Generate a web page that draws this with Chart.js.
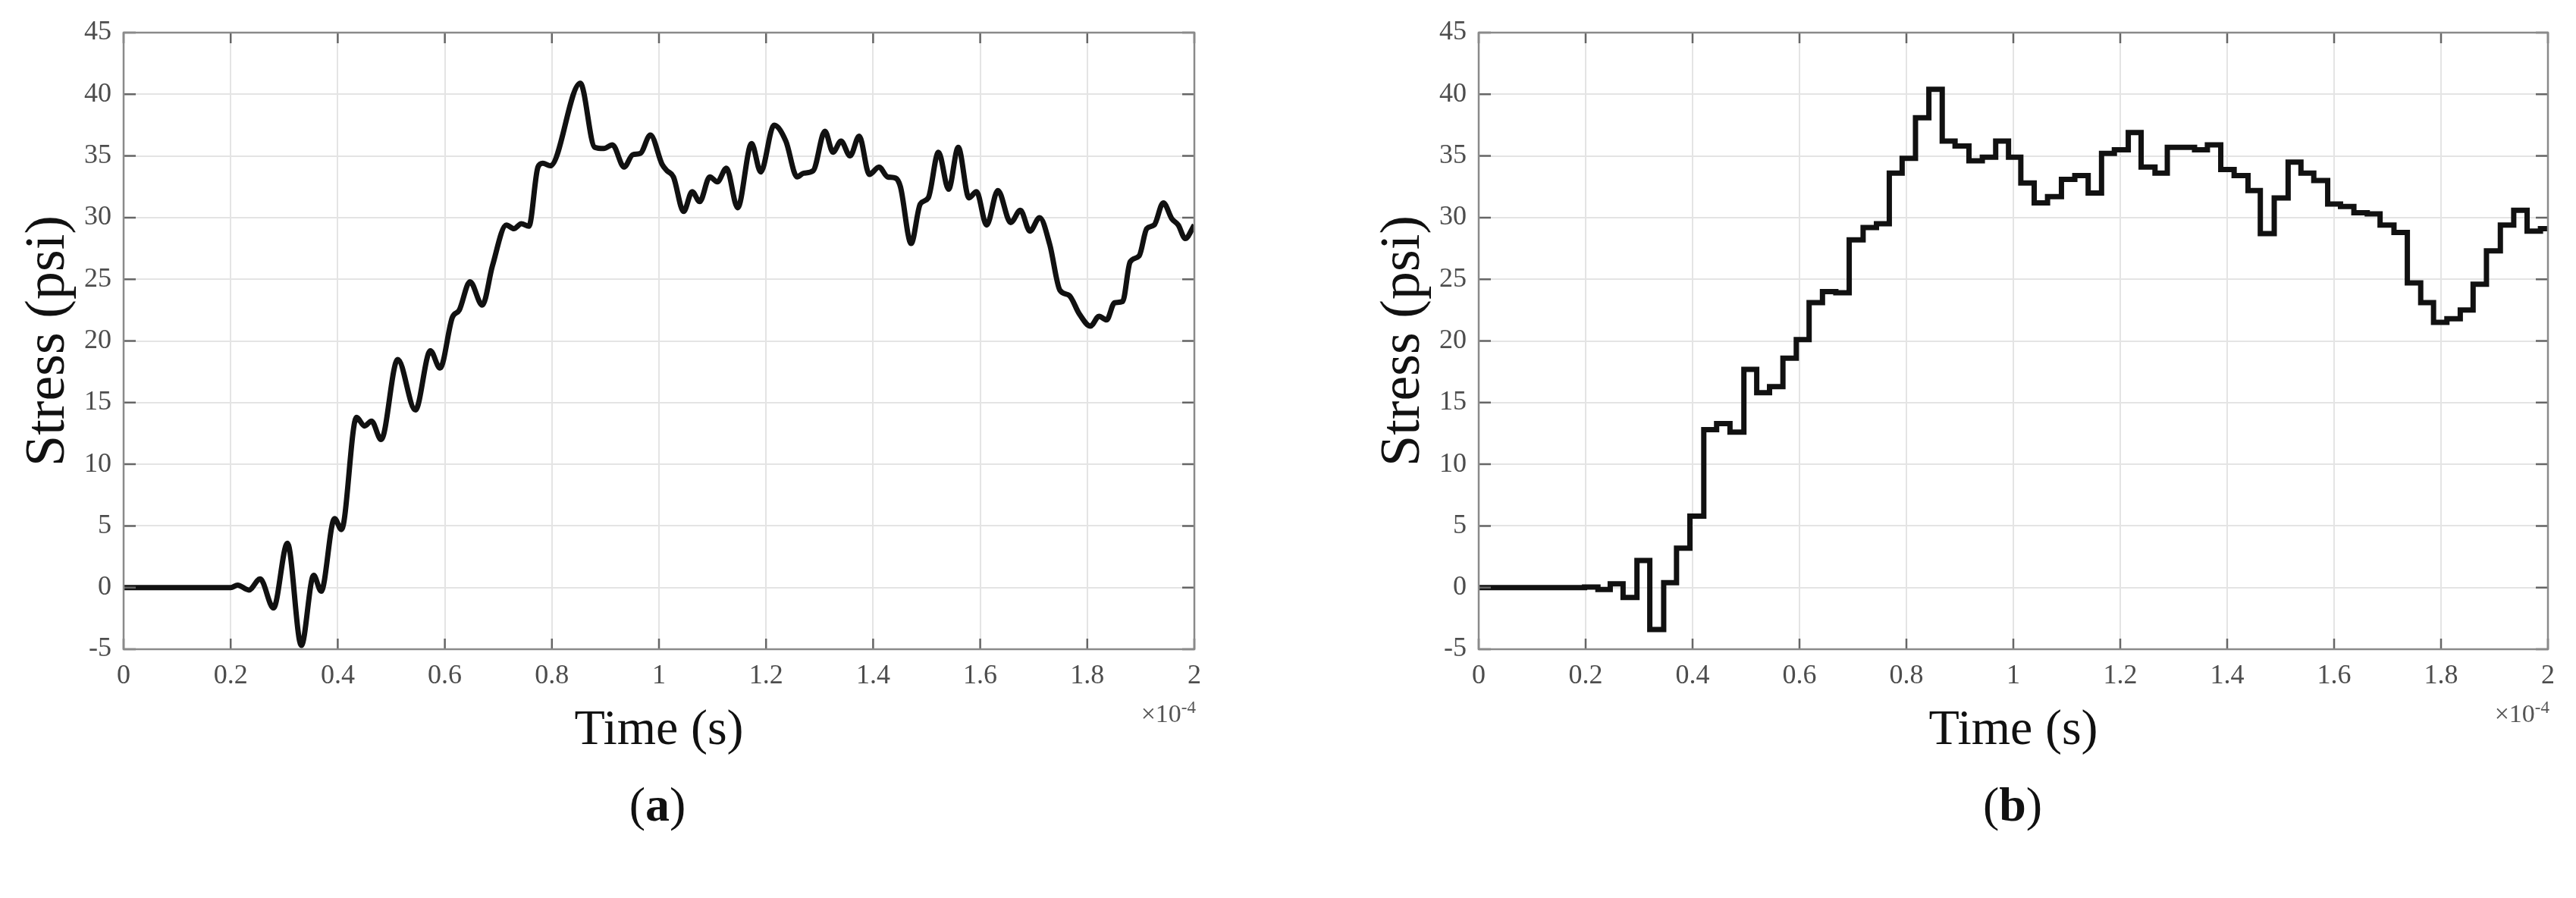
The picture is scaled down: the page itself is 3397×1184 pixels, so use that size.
<!DOCTYPE html>
<html lang="en">
  <head>
    <meta charset="UTF-8" />
    <title>Stress vs Time</title>
    <script src="https://cdn.jsdelivr.net/npm/chart.js"></script>
    <style>
      body {
        margin: 0;
        background: #fff;
        width: 3397px;
        height: 1184px;
        overflow: hidden;
        position: relative;
        font-family: "Liberation Serif", serif;
      }
      canvas {
        position: absolute;
        top: 0;
      }
      .cap {
        position: absolute;
        top: 1024px;
        width: 200px;
        text-align: center;
        font-size: 64px;
        font-weight: bold;
        color: #111;
      }
      .cap span {
        font-weight: normal;
      }
      .exp {
        position: absolute;
        top: 920px;
        font-size: 34px;
        color: #555;
        text-align: right;
        width: 120px;
      }
      .exp sup {
        font-size: 23px;
      }
    </style>
  </head>
  <body>
    <canvas id="chartA" width="1700" height="1184" style="left:0px"></canvas>
    <canvas id="chartB" width="1610" height="1184" style="left:1787px"></canvas>

    <div class="exp" style="left:1457px">&times;10<sup>-4</sup></div>
    <div class="exp" style="left:3242px">&times;10<sup>-4</sup></div>
    <div class="cap" style="left:767px"><span>(</span>a<span>)</span></div>
    <div class="cap" style="left:2554px"><span>(</span>b<span>)</span></div>

    <script>
      // tick values (time axis in units of 1e-4 s)
      const xTicks = [0, 0.2, 0.4, 0.6, 0.8, 1, 1.2, 1.4, 1.6, 1.8, 2];
      const yTicks = [-5, 0, 5, 10, 15, 20, 25, 30, 35, 40, 45];

      // (a) filtered signal at its turning points
      const timeA = [
        0, 0.1, 0.2, 0.213, 0.234, 0.255, 0.28, 0.306, 0.332, 0.355, 0.369,
        0.394, 0.407, 0.435, 0.45, 0.463, 0.481, 0.512, 0.545, 0.573, 0.591,
        0.614, 0.627, 0.647, 0.67, 0.689, 0.715, 0.729, 0.743, 0.757, 0.774,
        0.783, 0.797, 0.853, 0.88, 0.897, 0.913, 0.935, 0.951, 0.965, 0.984,
        1.006, 1.015, 1.027, 1.046, 1.062, 1.076, 1.095, 1.109, 1.126, 1.147,
        1.173, 1.19, 1.215, 1.237, 1.258, 1.27, 1.288, 1.31, 1.325, 1.34,
        1.357, 1.374, 1.393, 1.411, 1.427, 1.442, 1.451, 1.471, 1.488, 1.503,
        1.522, 1.541, 1.559, 1.579, 1.593, 1.612, 1.633, 1.657, 1.675, 1.693,
        1.711, 1.73, 1.749, 1.766, 1.785, 1.806, 1.822, 1.836, 1.851, 1.866,
        1.88, 1.897, 1.911, 1.925, 1.942, 1.958, 1.97, 1.983, 2.0,
      ];
      const stressA = [
        0, 0, 0, 0.2, -0.2, 0.7, -1.65, 3.6, -4.7, 1.0, -0.3,
        5.6, 4.7, 13.8, 13.1, 13.5, 12.0, 18.5, 14.4, 19.2, 17.8,
        21.9, 22.5, 24.8, 22.9, 26.1, 29.4, 29.1, 29.5, 29.3, 34.1,
        34.4, 34.2, 40.9, 35.7, 35.6, 35.9, 34.1, 35.1, 35.2, 36.7,
        34.3, 33.8, 33.3, 30.5, 32.1, 31.3, 33.3, 32.9, 34.0, 30.8,
        36.0, 33.7, 37.5, 36.2, 33.3, 33.6, 33.8, 37.0, 35.3, 36.2,
        35.0, 36.6, 33.5, 34.1, 33.3, 33.2, 32.5, 27.9, 31.1, 31.6,
        35.3, 32.3, 35.7, 31.6, 32.1, 29.4, 32.2, 29.6, 30.6, 28.9,
        30.0, 27.8, 24.1, 23.7, 22.2, 21.2, 22.0, 21.7, 23.1, 23.2,
        26.4, 26.9, 29.1, 29.4, 31.2, 29.9, 29.4, 28.3, 29.4,
      ];

      // (b) sampled signal: start time of each hold step and its level
      const timeB = [
        0, 0.198, 0.223, 0.246, 0.27, 0.296, 0.32, 0.346, 0.37, 0.395,
        0.421, 0.445, 0.47, 0.496, 0.52, 0.544, 0.569, 0.594, 0.618, 0.643,
        0.668, 0.693, 0.719, 0.744, 0.768, 0.792, 0.817, 0.842, 0.867, 0.891,
        0.917, 0.942, 0.967, 0.991, 1.014, 1.039, 1.064, 1.09, 1.115, 1.14,
        1.165, 1.189, 1.215, 1.239, 1.265, 1.288, 1.313, 1.339, 1.363, 1.388,
        1.413, 1.439, 1.462, 1.488, 1.514, 1.538, 1.562, 1.588, 1.612, 1.637,
        1.662, 1.686, 1.712, 1.737, 1.762, 1.786, 1.811, 1.836, 1.86, 1.885,
        1.911, 1.936, 1.961, 1.986, 2.0,
      ];
      const stressB = [
        0, 0.05, -0.15, 0.3, -0.8, 2.2, -3.4, 0.4, 3.2, 5.8,
        12.8, 13.3, 12.6, 17.7, 15.8, 16.3, 18.6, 20.1, 23.1, 24.0,
        23.9, 28.2, 29.2, 29.5, 33.6, 34.8, 38.1, 40.4, 36.2, 35.8,
        34.6, 34.9, 36.2, 34.9, 32.8, 31.2, 31.7, 33.1, 33.4, 32.0,
        35.2, 35.5, 36.9, 34.1, 33.6, 35.7, 35.7, 35.5, 35.9, 33.9,
        33.4, 32.2, 28.7, 31.6, 34.5, 33.6, 33.0, 31.1, 30.9, 30.4,
        30.3, 29.4, 28.8, 24.7, 23.1, 21.5, 21.8, 22.5, 24.6, 27.3,
        29.4, 30.6, 28.9, 29.1, 29.1,
      ];

      const serif = "'Liberation Serif', 'Times New Roman', serif";

      // box around the plot with short inward ticks on all four sides
      const boxPlugin = {
        id: "box",
        afterDraw(chart) {
          const { ctx, chartArea: a, scales } = chart;
          ctx.save();
          ctx.strokeStyle = "#666";
          ctx.lineWidth = 2.5;
          ctx.beginPath();
          xTicks.forEach((v) => {
            const px = scales.x.getPixelForValue(v);
            ctx.moveTo(px, a.bottom);
            ctx.lineTo(px, a.bottom - 14);
            ctx.moveTo(px, a.top);
            ctx.lineTo(px, a.top + 14);
          });
          yTicks.forEach((v) => {
            const py = scales.y.getPixelForValue(v);
            ctx.moveTo(a.left, py);
            ctx.lineTo(a.left + 16, py);
            ctx.moveTo(a.right, py);
            ctx.lineTo(a.right - 16, py);
          });
          ctx.stroke();
          ctx.strokeStyle = "#8a8a8a";
          ctx.strokeRect(a.left, a.top, a.right - a.left, a.bottom - a.top);
          ctx.restore();
        },
      };

      function makeOptions(rightPad) {
        return {
          responsive: false,
          animation: false,
          layout: { padding: { left: 0, right: rightPad, top: 43, bottom: 178 } },
          plugins: { legend: { display: false }, tooltip: { enabled: false } },
          scales: {
            x: {
              type: "linear",
              min: 0,
              max: 2,
              afterBuildTicks: (s) => {
                s.ticks = xTicks.map((v) => ({ value: v }));
              },
              afterFit: (s) => {
                s.height = 150;
              },
              grid: { color: "#e4e4e4", lineWidth: 2, drawTicks: false },
              border: { display: false },
              ticks: {
                padding: 14,
                color: "#4d4d4d",
                maxRotation: 0,
                font: { family: serif, size: 36 },
                callback: (v) => String(+v.toFixed(1)),
              },
              title: {
                display: true,
                text: "Time (s)",
                color: "#111",
                font: { family: serif, size: 66 },
                padding: { top: 0, bottom: 3 },
              },
            },
            y: {
              min: -5,
              max: 45,
              afterBuildTicks: (s) => {
                s.ticks = yTicks.map((v) => ({ value: v }));
              },
              afterFit: (s) => {
                s.width = 163;
              },
              grid: { color: "#e4e4e4", lineWidth: 2, drawTicks: false },
              border: { display: false },
              ticks: {
                padding: 16,
                color: "#4d4d4d",
                font: { family: serif, size: 36 },
              },
              title: {
                display: true,
                text: "Stress (psi)",
                color: "#111",
                font: { family: serif, size: 74 },
                padding: { top: 20, bottom: 0 },
              },
            },
          },
        };
      }

      new Chart(document.getElementById("chartA"), {
        type: "line",
        data: {
          datasets: [
            {
              data: timeA.map((t, i) => ({ x: t, y: stressA[i] })),
              borderColor: "#111",
              borderWidth: 7,
              pointRadius: 0,
              cubicInterpolationMode: "monotone",
            },
          ],
        },
        options: makeOptions(125),
        plugins: [boxPlugin],
      });

      new Chart(document.getElementById("chartB"), {
        type: "line",
        data: {
          datasets: [
            {
              data: timeB.map((t, i) => ({ x: t, y: stressB[i] })),
              borderColor: "#111",
              borderWidth: 7,
              pointRadius: 0,
              stepped: "before",
            },
          ],
        },
        options: makeOptions(37),
        plugins: [boxPlugin],
      });
    </script>
  </body>
</html>
